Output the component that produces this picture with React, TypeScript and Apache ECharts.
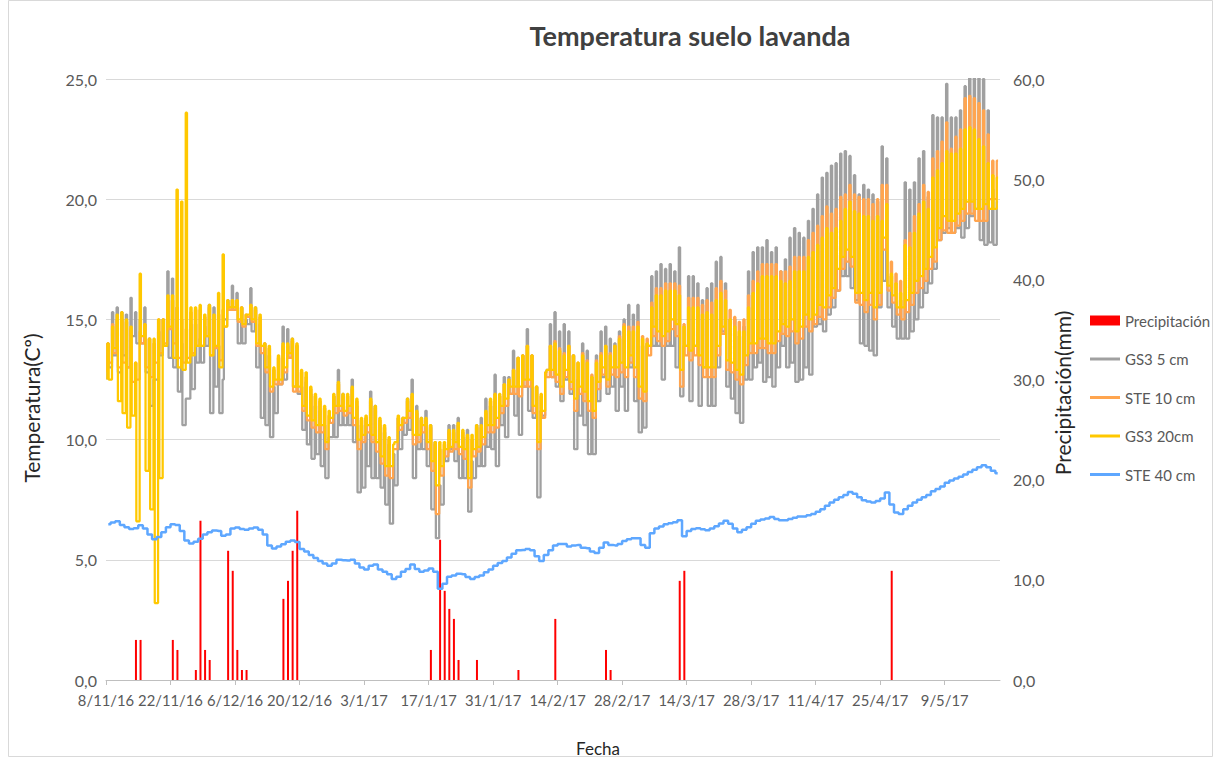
import React, { useEffect, useRef } from "react";
import * as echarts from "echarts";

// Day 0 = 8/11/2016. One value per day.
const START = { y: 2016, m: 10, d: 8 };
const xTickDays = [0, 14, 28, 42, 56, 70, 84, 98, 112, 126, 140, 154, 168, 182];

// GS3 5 cm daily minimum / maximum (ºC)
const gs3_5_min = [
  12.5, 13.0, 13.5, 12.8, 13.5, 13.0, 14.3, 14.0, 14.0, 12.8,
  11.4, 12.5, 13.5, 13.9, 13.4, 13.0, 12.0, 10.6, 11.7, 12.1,
  13.2, 13.2, 13.9, 11.1, 12.2, 11.1, 15.0, 15.5, 15.5, 14.0,
  14.0, 14.8, 14.5, 13.0, 10.9, 10.6, 10.1, 11.1, 12.3, 12.5,
  13.4, 12.2, 11.9, 10.4, 9.8, 9.2, 9.4, 8.9, 8.4, 10.1,
  10.1, 10.6, 10.6, 10.6, 9.9, 7.8, 8.0, 8.9, 8.4, 8.4,
  8.0, 7.3, 6.5, 8.1, 9.6, 10.2, 10.4, 8.4, 9.6, 9.6,
  8.9, 7.1, 5.9, 7.3, 9.1, 9.6, 9.1, 8.4, 8.4, 7.0,
  8.4, 8.9, 8.9, 9.7, 9.6, 8.9, 10.6, 10.1, 11.9, 11.0,
  10.2, 12.2, 11.2, 10.9, 7.6, 11.0, 12.9, 12.6, 12.2, 11.6,
  12.5, 11.9, 9.6, 11.0, 10.6, 9.4, 9.4, 11.6, 12.6, 11.9,
  12.2, 11.2, 12.2, 11.2, 13.0, 11.6, 10.3, 10.5, 13.9, 13.9,
  13.9, 12.5, 13.9, 13.9, 13.0, 11.8, 13.9, 11.6, 13.9, 11.4,
  13.0, 11.4, 11.4, 13.0, 14.5, 12.2, 11.7, 11.1, 10.7, 12.5,
  12.5, 13.0, 13.2, 12.4, 12.6, 12.2, 13.0, 13.9, 13.0, 13.2,
  12.4, 12.5, 13.0, 12.7, 14.7, 14.8, 14.5, 15.2, 15.5, 16.2,
  16.8, 16.8, 16.3, 15.8, 14.0, 13.9, 13.7, 13.5, 15.5, 16.6,
  15.5, 14.7, 14.2, 14.2, 14.2, 14.5, 15.0, 15.5, 16.1, 16.5,
  17.1, 18.3, 18.6, 18.8, 18.6, 18.8, 18.4, 18.8, 19.3, 19.6,
  18.3, 18.1, 18.2, 18.1,
];
const gs3_5_max = [
  14.0, 15.3, 15.5, 15.3, 15.2, 15.9, 15.3, 15.0, 15.5, 14.2,
  12.5, 14.5, 15.0, 17.0, 16.7, 15.5, 14.0, 11.7, 14.8, 14.8,
  14.2, 14.7, 15.6, 15.5, 13.9, 12.5, 15.8, 16.4, 16.1, 15.5,
  15.0, 16.3, 15.5, 14.8, 14.0, 13.5, 12.2, 12.5, 14.7, 14.6,
  14.2, 13.9, 12.2, 12.4, 11.9, 11.4, 11.2, 10.6, 10.1, 11.8,
  12.9, 11.9, 11.4, 12.5, 11.4, 10.6, 10.9, 12.0, 11.4, 10.6,
  10.3, 9.8, 9.4, 10.9, 10.9, 11.7, 12.5, 11.4, 10.9, 11.2,
  10.6, 9.9, 8.1, 9.6, 10.6, 10.6, 10.9, 10.1, 10.4, 9.1,
  10.6, 10.9, 11.7, 11.4, 12.7, 11.4, 12.6, 12.6, 13.7, 13.4,
  13.5, 14.6, 13.5, 12.2, 11.2, 12.8, 14.8, 15.3, 14.5, 14.8,
  14.5, 13.5, 12.5, 14.0, 13.7, 12.6, 13.5, 14.5, 14.7, 14.2,
  14.0, 14.5, 15.0, 15.6, 15.2, 15.6, 13.9, 14.0, 16.8, 17.0,
  17.3, 17.1, 17.3, 17.0, 18.0, 13.9, 16.8, 16.8, 16.5, 15.8,
  16.3, 16.5, 17.4, 17.6, 16.5, 15.0, 15.0, 14.3, 14.7, 17.0,
  17.8, 18.0, 18.0, 18.3, 17.8, 18.0, 17.0, 17.5, 18.4, 18.8,
  18.6, 18.4, 19.1, 19.6, 20.2, 20.9, 21.1, 21.4, 21.5, 21.9,
  22.0, 21.8, 21.0, 20.2, 20.6, 20.4, 20.2, 19.9, 22.2, 21.7,
  16.8, 15.7, 15.8, 20.7, 20.4, 20.7, 21.7, 22.0, 20.1, 23.5,
  23.4, 23.4, 24.8, 23.4, 23.4, 23.7, 24.7, 25.5, 25.5, 25.5,
  25.0, 23.7, 20.4, 19.9,
];

// STE 10 cm daily minimum / maximum (ºC)
const ste_10_min = [
  12.8, 13.2, 13.6, 13.0, 13.2, 13.0, 12.4, 12.5, 14.0, 13.0,
  12.6, 13.2, 13.6, 14.0, 14.6, 14.0, 13.4, 13.2, 13.4, 13.6,
  13.9, 13.9, 14.3, 13.5, 13.8, 13.3, 14.7, 15.4, 15.4, 14.9,
  14.7, 15.1, 14.9, 13.9, 13.6, 12.8, 12.0, 12.3, 12.3, 12.8,
  13.4, 12.0, 12.0, 11.2, 10.8, 10.5, 10.3, 10.3, 9.6, 10.7,
  11.1, 11.2, 11.0, 11.1, 10.6, 9.6, 9.9, 10.3, 9.9, 9.5,
  9.0, 8.5, 8.4, 9.6, 10.4, 10.7, 10.9, 9.8, 9.9, 10.3,
  9.6, 8.7, 6.9, 8.5, 9.3, 9.5, 9.6, 9.4, 9.2, 8.0,
  9.3, 9.5, 9.8, 10.3, 10.3, 10.5, 11.1, 11.4, 11.9, 11.9,
  11.8, 12.2, 12.2, 11.1, 9.6, 10.9, 12.6, 12.6, 12.4, 11.9,
  12.6, 12.1, 11.2, 11.9, 11.6, 11.2, 10.9, 12.1, 12.7, 12.2,
  12.7, 12.6, 12.8, 12.6, 13.2, 12.6, 11.7, 11.6, 13.5, 14.3,
  14.1, 13.9, 14.1, 14.6, 14.3, 12.2, 13.5, 13.3, 13.5, 13.1,
  12.6, 12.6, 12.6, 13.5, 14.4, 12.9, 12.8, 12.5, 12.3, 13.1,
  13.6, 13.6, 13.8, 13.8, 13.6, 13.6, 14.1, 14.4, 14.3, 14.5,
  14.0, 14.2, 14.7, 14.5, 14.8, 15.1, 15.0, 15.5, 15.9, 16.2,
  17.1, 17.4, 17.2, 15.7, 15.6, 15.3, 15.6, 15.0, 15.6, 17.9,
  16.2, 15.7, 15.2, 15.0, 15.3, 15.6, 16.1, 16.3, 16.6, 17.1,
  17.4, 18.3, 18.7, 18.6, 18.6, 18.9, 19.1, 19.4, 19.4, 19.1,
  19.1, 19.1, 20.0, 20.0,
];
const ste_10_max = [
  14.0, 14.8, 15.0, 15.0, 14.9, 14.6, 13.2, 14.5, 14.8, 14.2,
  14.0, 15.0, 15.0, 15.8, 15.8, 15.5, 15.0, 14.6, 15.3, 15.4,
  15.4, 15.1, 15.5, 15.0, 15.2, 15.4, 15.7, 15.8, 15.8, 15.5,
  15.2, 15.6, 15.4, 15.1, 14.0, 13.8, 12.9, 13.4, 13.9, 13.9,
  14.1, 13.9, 12.8, 12.6, 12.1, 11.8, 11.6, 11.3, 11.0, 11.8,
  12.3, 11.8, 11.8, 12.1, 11.6, 10.8, 10.9, 11.6, 11.3, 10.8,
  10.5, 10.0, 9.6, 10.9, 10.9, 11.6, 11.8, 11.1, 10.8, 10.8,
  10.5, 9.8, 9.6, 9.8, 10.3, 10.3, 10.6, 10.3, 10.1, 10.0,
  10.5, 10.5, 11.1, 11.6, 11.9, 11.8, 12.3, 12.5, 12.9, 13.4,
  13.5, 13.9, 13.5, 12.2, 11.8, 12.8, 13.9, 14.1, 13.8, 13.6,
  13.9, 13.5, 13.2, 13.6, 13.3, 12.7, 13.3, 13.6, 13.9, 13.6,
  13.9, 14.3, 14.8, 14.7, 14.7, 14.9, 14.3, 14.2, 15.7, 16.3,
  16.3, 16.5, 16.5, 16.5, 16.4, 14.8, 15.9, 15.9, 15.9, 15.6,
  15.8, 15.7, 16.3, 16.6, 16.2, 15.4, 15.1, 14.9, 15.0, 16.0,
  16.6, 17.0, 17.3, 17.3, 17.3, 17.3, 17.0, 17.0, 17.2, 17.6,
  17.6, 17.6, 18.3, 18.6, 18.9, 19.3, 19.7, 19.4, 19.6, 20.1,
  20.2, 20.6, 20.2, 20.1, 20.0, 20.0, 19.8, 20.0, 20.6, 20.6,
  17.4, 16.9, 16.6, 18.3, 18.6, 19.3, 19.8, 20.6, 20.3, 21.7,
  22.0, 22.4, 23.2, 22.1, 22.6, 22.9, 24.2, 24.3, 24.2, 24.0,
  23.7, 22.7, 21.6, 21.6,
];

// GS3 20 cm daily minimum / maximum (ºC)
const gs3_20_min = [
  12.5, 12.5, 13.8, 11.6, 11.1, 10.5, 11.0, 6.6, 14.3, 8.7,
  7.1, 3.2, 8.4, 13.9, 14.7, 13.4, 13.0, 12.9, 13.2, 13.5,
  13.9, 13.9, 14.3, 13.5, 13.9, 13.0, 14.7, 15.5, 15.5, 15.0,
  14.8, 15.2, 15.0, 14.0, 13.9, 13.0, 12.2, 12.5, 12.5, 13.0,
  13.6, 12.2, 12.2, 11.4, 11.0, 10.8, 10.6, 10.6, 9.9, 10.9,
  11.4, 11.4, 11.2, 11.4, 10.9, 10.0, 10.2, 10.6, 10.2, 9.9,
  9.3, 8.9, 8.9, 9.9, 10.6, 10.9, 11.2, 10.2, 10.2, 10.6,
  9.9, 9.1, 8.1, 8.9, 9.6, 9.7, 9.9, 9.7, 9.6, 8.4,
  9.6, 9.7, 10.1, 10.6, 10.6, 10.9, 11.4, 11.7, 12.2, 12.2,
  12.2, 12.5, 12.5, 11.4, 9.9, 11.2, 12.9, 12.9, 12.7, 12.2,
  12.9, 12.4, 11.7, 12.2, 12.0, 11.6, 11.2, 12.4, 13.0, 12.5,
  13.0, 13.0, 13.2, 13.0, 13.5, 13.0, 12.2, 12.0, 13.9, 14.7,
  14.5, 14.3, 14.5, 15.0, 14.8, 12.9, 13.9, 13.7, 13.9, 13.5,
  13.0, 13.0, 13.0, 13.9, 14.7, 13.3, 13.2, 12.9, 12.7, 13.5,
  14.0, 14.0, 14.2, 14.2, 14.0, 14.0, 14.5, 14.8, 14.7, 15.0,
  14.5, 14.7, 15.2, 15.0, 15.2, 15.6, 15.5, 16.0, 16.3, 17.1,
  17.6, 17.9, 17.6, 16.1, 16.1, 15.8, 16.1, 15.5, 16.1, 18.4,
  16.4, 16.0, 15.5, 15.5, 15.8, 16.1, 16.6, 16.8, 17.1, 17.6,
  18.0, 18.8, 19.3, 19.1, 19.1, 19.4, 19.6, 19.9, 19.9, 19.6,
  19.6, 19.8, 19.6, 19.6,
];
const gs3_20_max = [
  14.0, 14.7, 15.2, 15.3, 15.0, 14.7, 13.2, 16.9, 14.8, 14.2,
  14.2, 15.0, 15.0, 16.0, 16.0, 20.4, 19.9, 23.6, 15.5, 15.5,
  15.6, 15.2, 15.6, 15.2, 16.1, 17.7, 15.8, 15.8, 15.8, 15.5,
  15.2, 15.6, 15.5, 15.2, 14.0, 13.9, 13.0, 13.5, 14.0, 14.0,
  14.2, 14.0, 12.9, 12.8, 12.2, 11.9, 11.7, 11.4, 11.2, 11.9,
  12.4, 11.9, 11.9, 12.2, 11.7, 10.9, 11.0, 11.7, 11.4, 10.9,
  10.6, 10.1, 9.8, 11.0, 10.9, 11.7, 11.9, 11.2, 10.9, 10.9,
  10.6, 9.9, 9.9, 9.9, 10.4, 10.4, 10.7, 10.4, 10.2, 10.2,
  10.6, 10.6, 11.2, 11.7, 11.9, 11.9, 12.3, 12.5, 12.9, 13.4,
  13.5, 13.9, 13.5, 12.2, 11.9, 12.8, 13.9, 14.0, 13.7, 13.5,
  13.9, 13.5, 13.2, 13.5, 13.2, 12.6, 13.2, 13.5, 13.9, 13.5,
  13.9, 14.2, 14.7, 14.5, 14.5, 14.7, 14.2, 14.0, 15.5, 16.0,
  16.0, 16.2, 16.2, 16.2, 16.0, 14.7, 15.5, 15.5, 15.5, 15.2,
  15.3, 15.2, 15.8, 16.1, 15.8, 15.0, 14.7, 14.5, 14.5, 15.5,
  16.1, 16.5, 16.8, 16.8, 16.8, 16.8, 16.6, 16.5, 16.6, 17.0,
  17.0, 17.0, 17.6, 17.8, 18.1, 18.4, 18.8, 18.6, 18.8, 19.1,
  19.6, 19.9, 19.5, 19.4, 19.3, 19.3, 19.1, 19.3, 19.1, 19.8,
  16.9, 16.5, 16.1, 18.1, 18.0, 18.6, 19.4, 19.9, 19.6, 20.9,
  21.2, 21.5, 22.0, 21.9, 21.9, 22.1, 22.9, 23.0, 22.9, 22.5,
  22.2, 21.5, 21.0, 20.9,
];

// STE 40 cm daily value (ºC)
const ste_40 = [
  6.48, 6.55, 6.6, 6.45, 6.35, 6.28, 6.31, 6.44, 6.3, 6.05,
  5.85, 5.95, 6.15, 6.35, 6.48, 6.45, 6.2, 5.8, 5.68, 5.75,
  5.88, 6.05, 6.15, 6.22, 6.2, 6.0, 6.05, 6.3, 6.34, 6.28,
  6.25, 6.3, 6.34, 6.25, 6.05, 5.6, 5.47, 5.55, 5.65, 5.75,
  5.8, 5.74, 5.45, 5.35, 5.2, 5.08, 4.95, 4.85, 4.75, 4.85,
  5.0, 4.98, 4.97, 5.0, 4.85, 4.68, 4.6, 4.75, 4.8, 4.6,
  4.5, 4.4, 4.2, 4.3, 4.5, 4.62, 4.8, 4.62, 4.5, 4.55,
  4.64, 4.5, 3.8, 4.0, 4.3, 4.35, 4.42, 4.4, 4.28, 4.2,
  4.28, 4.35, 4.48, 4.6, 4.75, 4.87, 4.95, 5.1, 5.25, 5.4,
  5.41, 5.45, 5.4, 5.15, 4.95, 5.2, 5.4, 5.6, 5.66, 5.66,
  5.55, 5.6, 5.62, 5.5, 5.48, 5.35, 5.28, 5.5, 5.72, 5.62,
  5.6, 5.66, 5.78, 5.85, 5.9, 5.9, 5.62, 5.5, 6.1, 6.3,
  6.39, 6.48, 6.52, 6.56, 6.64, 5.98, 6.2, 6.28, 6.31, 6.27,
  6.23, 6.3, 6.4, 6.51, 6.62, 6.5, 6.3, 6.15, 6.25, 6.35,
  6.5, 6.62, 6.68, 6.72, 6.78, 6.7, 6.64, 6.64, 6.7, 6.75,
  6.8, 6.8, 6.85, 6.9, 7.0, 7.1, 7.25, 7.38, 7.5, 7.6,
  7.7, 7.82, 7.75, 7.6, 7.48, 7.42, 7.38, 7.45, 7.55, 7.8,
  7.3, 6.97, 6.9, 7.1, 7.25, 7.38, 7.5, 7.6, 7.7, 7.85,
  7.95, 8.05, 8.2, 8.3, 8.38, 8.45, 8.55, 8.65, 8.75, 8.85,
  8.93, 8.85, 8.7, 8.6,
];

// Precipitation: day (since 8/11/16) and mm
const precipDay = [6, 7, 14, 15, 19, 20, 21, 22, 26, 27, 28, 29, 30, 38, 39, 40, 41,
  70, 72, 73, 74, 75, 76, 80, 89, 97, 108, 109, 124, 125, 170];
const precipMm = [4.0, 4.0, 4.0, 3.0, 1.0, 15.9, 3.0, 2.0, 12.9, 10.9, 3.0, 1.0, 1.0, 8.1, 9.9, 12.9, 16.9,
  3.0, 14.0, 8.9, 7.1, 6.1, 2.0, 2.0, 1.0, 6.1, 3.0, 1.0, 9.9, 10.9, 10.9];

const FONT = "Lato, 'Open Sans', sans-serif";
const MIN_AT = 0.3; // fraction of day of the daily minimum
const MAX_AT = 0.58; // fraction of day of the daily maximum
const LINE_ICON = "path://M0,0H30V3H0Z";

function dailyRange(mins: number[], maxs: number[]) {
  const out: number[][] = [];
  mins.forEach((lo, d) => {
    out.push([d + MIN_AT, lo]);
    out.push([d + MAX_AT, maxs[d]]);
  });
  return out;
}

function dayLabel(v: number) {
  const dt = new Date(START.y, START.m, START.d + Math.round(v));
  return `${dt.getDate()}/${dt.getMonth() + 1}/${String(dt.getFullYear()).slice(2)}`;
}
const comma = (v: number) => v.toFixed(1).replace(".", ",");

export default function App() {
  const ref = useRef<HTMLDivElement>(null);
  useEffect(() => {
    if (!ref.current) return;
    const chart = echarts.init(ref.current, undefined, { renderer: "svg" });
    const labelStyle = { fontFamily: FONT, fontSize: 16, color: "#595959" };
    const nameStyle = { fontFamily: FONT, fontSize: 21, fill: "#262626", align: "center", verticalAlign: "middle" };
    chart.setOption({
      animation: false,
      backgroundColor: "#ffffff",
      grid: { left: 106, right: 214, top: 79, bottom: 78, containLabel: false },
      legend: {
        orient: "vertical",
        left: 1085,
        top: 308,
        itemWidth: 30,
        itemHeight: 10,
        itemGap: 23.5,
        textStyle: { fontFamily: FONT, fontSize: 15, color: "#595959" },
        data: [
          { name: "Precipitación", icon: "rect" },
          { name: "GS3 5 cm", icon: LINE_ICON },
          { name: "STE 10 cm", icon: LINE_ICON },
          { name: "GS3 20cm", icon: LINE_ICON },
          { name: "STE 40 cm", icon: LINE_ICON },
        ],
      },
      xAxis: {
        type: "value",
        min: 0,
        max: 194,
        splitLine: { show: false },
        axisLine: { show: true, lineStyle: { color: "#bfbfbf", width: 1 } },
        axisTick: { show: true, length: 5, customValues: xTickDays, lineStyle: { color: "#bfbfbf" } },
        axisLabel: { ...labelStyle, fontSize: 14.8, margin: 12, customValues: xTickDays, formatter: dayLabel },
      },
      yAxis: [
        {
          type: "value",
          min: 0,
          max: 25,
          interval: 5,
          axisLine: { show: false },
          axisTick: { show: false },
          splitLine: { lineStyle: { color: "#d9d9d9", width: 1 } },
          axisLabel: { ...labelStyle, margin: 9, formatter: comma },
        },
        {
          type: "value",
          min: 0,
          max: 60,
          interval: 10,
          position: "right",
          axisLine: { show: false },
          axisTick: { show: false },
          splitLine: { show: false },
          axisLabel: { ...labelStyle, margin: 13, formatter: comma },
        },
      ],
      graphic: [
        {
          type: "rect",
          silent: true,
          shape: { x: 8.5, y: 0.5, width: 1204, height: 756 },
          style: { fill: "none", stroke: "#d9d9d9", lineWidth: 1 },
          z: -10,
        },
        {
          type: "text",
          x: 690,
          y: 35,
          style: {
            text: "Temperatura suelo lavanda",
            fontFamily: FONT,
            fontSize: 27,
            fontWeight: "bold",
            fill: "#404040",
            align: "center",
            verticalAlign: "middle",
          },
        },
        {
          type: "text",
          x: 31,
          y: 408,
          rotation: Math.PI / 2,
          style: { ...nameStyle, text: "Temperatura(Cº)" },
        },
        {
          type: "text",
          x: 1062,
          y: 393,
          rotation: Math.PI / 2,
          style: { ...nameStyle, text: "Precipitación(mm)" },
        },
        {
          type: "text",
          x: 598,
          y: 748,
          style: { ...nameStyle, fontSize: 17, text: "Fecha" },
        },
      ],
      series: [
        {
          name: "Precipitación",
          type: "bar",
          yAxisIndex: 1,
          barWidth: 2,
          itemStyle: { color: "#ff0000" },
          data: precipDay.map((d, i) => [d + 0.5, precipMm[i]]),
          z: 1,
        },
        {
          name: "GS3 5 cm",
          type: "line",
          symbol: "none",
          step: "start",
          lineStyle: { width: 2.25, color: "#a0a0a0" },
          itemStyle: { color: "#a0a0a0" },
          data: dailyRange(gs3_5_min, gs3_5_max),
          z: 2,
        },
        {
          name: "STE 10 cm",
          type: "line",
          symbol: "none",
          step: "start",
          lineStyle: { width: 2.25, color: "#ffa54f" },
          itemStyle: { color: "#ffa54f" },
          data: dailyRange(ste_10_min, ste_10_max),
          z: 3,
        },
        {
          name: "GS3 20cm",
          type: "line",
          symbol: "none",
          step: "start",
          lineStyle: { width: 2.25, color: "#ffc800" },
          itemStyle: { color: "#ffc800" },
          data: dailyRange(gs3_20_min, gs3_20_max),
          z: 4,
        },
        {
          name: "STE 40 cm",
          type: "line",
          symbol: "none",
          step: "middle",
          lineStyle: { width: 2.5, color: "#5ea7ff" },
          itemStyle: { color: "#5ea7ff" },
          data: ste_40.map((v, d) => [d + 0.5, v]),
          z: 5,
        },
      ],
    });
    return () => chart.dispose();
  }, []);
  return (
    <div
      ref={ref}
      style={{ position: "fixed", left: 0, top: 0, width: 1214, height: 758, background: "#fff" }}
    />
  );
}
